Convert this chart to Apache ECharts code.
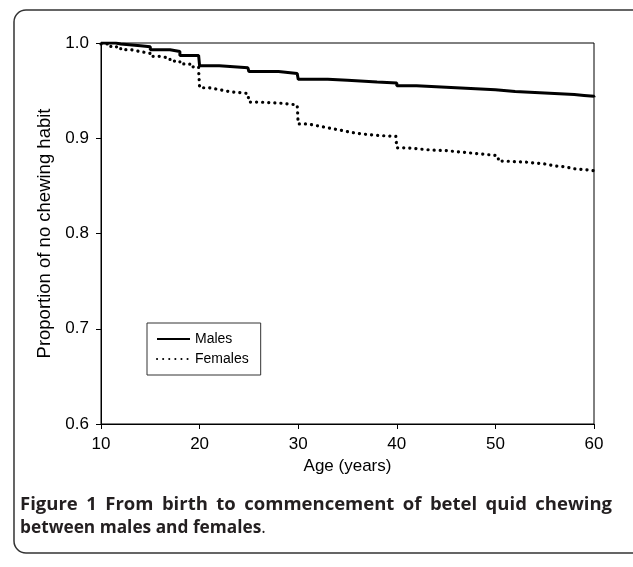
<!DOCTYPE html>
<html><head><meta charset="utf-8">
<script src="https://cdn.jsdelivr.net/npm/echarts@6/dist/echarts.min.js"></script>
<style>html,body{margin:0;padding:0;background:#fff}#c{width:633px;height:567px}</style>
</head><body><div id="c"></div>
<script>
var maleAges   = [10, 11.5, 12, 14, 15, 17, 18, 19.9, 20, 22, 24.9, 25, 28, 29.9, 30, 33, 35, 38, 40, 42, 44, 46, 48, 50, 52, 54, 56, 58, 59, 60];
var maleValues = [1.0, 0.999, 0.997, 0.996, 0.993, 0.991, 0.987, 0.985, 0.976, 0.974, 0.973, 0.970, 0.968, 0.967, 0.962, 0.961, 0.959, 0.958, 0.955, 0.954, 0.953, 0.952, 0.951, 0.949, 0.948, 0.947, 0.946, 0.945, 0.944, 0.943];
var femaleAges   = [10, 11, 12, 13, 14, 15, 16, 17, 18, 19, 19.9, 20, 21, 22, 23, 24.9, 25, 26, 28, 29.9, 30, 31, 32, 33, 34, 35, 36, 37, 38, 39.9, 40, 41, 42, 43, 45, 47, 48, 49, 50, 50.3, 51, 53, 55, 56, 57, 58, 59, 60];
var femaleValues = [0.999, 0.996, 0.993, 0.991, 0.989, 0.986, 0.984, 0.981, 0.978, 0.975, 0.972, 0.953, 0.951, 0.949, 0.947, 0.946, 0.938, 0.937, 0.935, 0.933, 0.915, 0.913, 0.911, 0.909, 0.907, 0.905, 0.904, 0.903, 0.902, 0.900, 0.890, 0.889, 0.888, 0.887, 0.885, 0.884, 0.883, 0.882, 0.881, 0.876, 0.875, 0.873, 0.871, 0.870, 0.868, 0.867, 0.866, 0.864];
var seriesNames = ['Males', 'Females'];
var yTicks = [0.6, 0.7, 0.8, 0.9, 1.0];
var xTicks = [10, 20, 30, 40, 50, 60];
var captionLine1 = ['Figure', '1', 'From', 'birth', 'to', 'commencement', 'of', 'betel', 'quid', 'chewing'];
var captionLine2 = 'between males and females';

function pairs(a, v) { return a.map(function (x, i) { return [x, v[i]]; }); }

var font = 'Liberation Sans, Arial, sans-serif';
var capFont1 = 'bold 18.5px "Open Sans"';
var capFont2 = 'bold 17.3px "Open Sans"';
var capColor = '#231f20';

// justify the first caption line between x=20 and x=612
var cv = document.createElement('canvas').getContext('2d');
cv.font = capFont1;
var widths = captionLine1.map(function (w) { return cv.measureText(w).width; });
var total = widths.reduce(function (a, b) { return a + b; }, 0);
var gap = (612 - 20 - total) / (captionLine1.length - 1);
var capEls = [];
var cx = 20;
captionLine1.forEach(function (w, i) {
  capEls.push({ type: 'text', x: cx, y: 505, silent: true,
    style: { text: w, font: capFont1, fill: capColor, textVerticalAlign: 'middle' } });
  cx += widths[i] + gap;
});
capEls.push({ type: 'text', x: 20, y: 528, silent: true,
  style: { text: '{m|' + captionLine2 + '}{n|.}', textVerticalAlign: 'middle',
    rich: { m: { font: capFont2, fill: capColor }, n: { font: '17.3px "Open Sans"', fill: capColor } } } });

var chart = echarts.init(document.getElementById('c'));
chart.setOption({
  animation: false,
  backgroundColor: '#fff',
  grid: { left: 101, right: 39, top: 43, bottom: 143, show: true, borderColor: '#000', borderWidth: 1 },
  xAxis: {
    type: 'value', min: xTicks[0], max: xTicks[xTicks.length - 1], interval: 10,
    name: 'Age (years)', nameLocation: 'middle', nameGap: 29,
    nameTextStyle: { fontFamily: font, fontSize: 17, color: '#000' },
    axisLine: { lineStyle: { color: '#000', width: 1 } },
    axisTick: { show: true, length: 5, lineStyle: { color: '#000' } },
    axisLabel: { fontFamily: font, fontSize: 17, color: '#000', margin: 12 },
    splitLine: { show: false }
  },
  yAxis: {
    type: 'value', min: yTicks[0], max: yTicks[yTicks.length - 1], interval: 0.1,
    name: 'Proportion of no chewing habit', nameLocation: 'middle', nameGap: 46,
    nameTextStyle: { fontFamily: font, fontSize: 18.5, color: '#000' },
    axisLine: { show: true, lineStyle: { color: '#000', width: 1 } },
    axisTick: { show: true, length: 5, lineStyle: { color: '#000' } },
    axisLabel: { fontFamily: font, fontSize: 17, color: '#000', margin: 12, formatter: function (v) { return v.toFixed(1); } },
    splitLine: { show: false }
  },
  legend: {
    orient: 'vertical', left: 147, top: 323,
    data: seriesNames,
    borderColor: '#333', borderWidth: 1, padding: [9, 12, 9, 9],
    itemWidth: 33, itemHeight: 14, itemGap: 6,
    itemStyle: { opacity: 0 },
    textStyle: { fontFamily: font, fontSize: 14, color: '#000' }
  },
  series: [
    { name: seriesNames[0], type: 'line', step: 'end', symbol: 'none', data: pairs(maleAges, maleValues),
      lineStyle: { color: '#000', width: 3 }, itemStyle: { color: '#000' } },
    { name: seriesNames[1], type: 'line', step: 'end', symbol: 'none', data: pairs(femaleAges, femaleValues),
      lineStyle: { color: '#000', width: 3.2, type: [0.1, 6], cap: 'round' }, itemStyle: { color: '#000' } }
  ],
  graphic: [
    { type: 'rect', shape: { x: 14, y: 10, width: 640, height: 543, r: 12 }, style: { fill: 'none', stroke: '#333', lineWidth: 1.5 }, silent: true }
  ].concat(capEls)
});
</script></body></html>
